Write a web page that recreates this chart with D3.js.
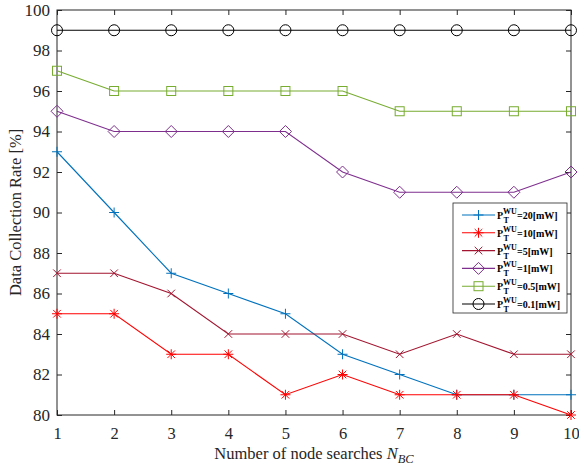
<!DOCTYPE html>
<html>
<head>
<meta charset="utf-8">
<script src="https://cdn.jsdelivr.net/npm/d3@7"></script>
<style>
  body { margin: 0; background: #fff; }
  text { font-family: "Liberation Serif", "Times New Roman", serif; }
</style>
</head>
<body>
<svg id="chart" width="579" height="469"></svg>
<script>
// data
const searches = [1, 2, 3, 4, 5, 6, 7, 8, 9, 10];
const p20 = [93, 90, 87, 86, 85, 83, 82, 81, 81, 81];
const p10 = [85, 85, 83, 83, 81, 82, 81, 81, 81, 80];
const p5 = [87, 87, 86, 84, 84, 84, 83, 84, 83, 83];
const p1 = [95, 94, 94, 94, 94, 92, 91, 91, 91, 92];
const p05 = [97, 96, 96, 96, 96, 96, 95, 95, 95, 95];
const p01 = [99, 99, 99, 99, 99, 99, 99, 99, 99, 99];
const yTicks = [80, 82, 84, 86, 88, 90, 92, 94, 96, 98, 100];
const powerLabels = ["20", "10", "5", "1", "0.5", "0.1"];

const seriesList = [
    {values: p20, color: "#0072BD", marker: "plus"},
    {values: p10, color: "#FF0000", marker: "star"},
    {values: p5, color: "#A2142F", marker: "cross"},
    {values: p1, color: "#7E2F8E", marker: "diamond"},
    {values: p05, color: "#77AC30", marker: "square"},
    {values: p01, color: "#000000", marker: "circle"}
];

const margin = {top: 10, right: 8, bottom: 54, left: 57};
const width = 579 - margin.left - margin.right;
const height = 469 - margin.top - margin.bottom;

const svg = d3.select("#chart");
const g = svg.append("g")
    .attr("transform", "translate(" + margin.left + "," + margin.top + ")");

const x = d3.scaleLinear().domain([1, 10]).range([0, width]);
const y = d3.scaleLinear().domain([80, 100]).range([height, 0]);

// axes, ticks pointing inward, box on
function styleAxis(sel) {
    sel.select(".domain").remove();
    sel.selectAll("line").attr("stroke", "#262626");
    sel.selectAll("text").attr("fill", "#262626").style("font-size", "17px");
}

g.append("g")
    .attr("transform", "translate(0," + height + ")")
    .call(d3.axisBottom(x).tickValues(searches).tickSize(-5).tickPadding(12).tickFormat(d3.format("d")))
    .call(styleAxis)
    .call(function(a) { a.selectAll("text").style("font-size", "16.5px"); });
g.append("g")
    .call(d3.axisTop(x).tickValues(searches).tickSize(-5).tickFormat(""))
    .call(styleAxis);
g.append("g")
    .call(d3.axisLeft(y).tickValues(yTicks).tickSize(-5).tickPadding(7))
    .call(styleAxis);
g.append("g")
    .attr("transform", "translate(" + width + ",0)")
    .call(d3.axisRight(y).tickValues(yTicks).tickSize(-5).tickFormat(""))
    .call(styleAxis);

g.append("rect")
    .attr("width", width).attr("height", height)
    .attr("fill", "none").attr("stroke", "#262626").attr("stroke-width", 1);

// markers
function drawMarker(sel, type, color) {
    const s = 5;
    if (type === "plus") {
        sel.append("path").attr("d", "M" + (-s) + ",0H" + s + "M0," + (-s) + "V" + s)
            .attr("stroke", color).attr("fill", "none");
    } else if (type === "cross") {
        const c = 3.8;
        sel.append("path").attr("d", "M" + (-c) + "," + (-c) + "L" + c + "," + c + "M" + (-c) + "," + c + "L" + c + "," + (-c))
            .attr("stroke", color).attr("fill", "none");
    } else if (type === "star") {
        const c = 3.8;
        sel.append("path").attr("d", "M" + (-s) + ",0H" + s + "M0," + (-s) + "V" + s +
            "M" + (-c) + "," + (-c) + "L" + c + "," + c + "M" + (-c) + "," + c + "L" + c + "," + (-c))
            .attr("stroke", color).attr("fill", "none");
    } else if (type === "diamond") {
        const d = 6;
        sel.append("path").attr("d", "M0," + (-d) + "L" + d + ",0L0," + d + "L" + (-d) + ",0Z")
            .attr("stroke", color).attr("fill", "none");
    } else if (type === "square") {
        sel.append("rect").attr("x", -4.5).attr("y", -4.5).attr("width", 9).attr("height", 9)
            .attr("stroke", color).attr("fill", "none");
    } else if (type === "circle") {
        sel.append("circle").attr("r", 5.5).attr("stroke", color).attr("fill", "none");
    }
}

const line = d3.line()
    .x(function(d, i) { return x(searches[i]); })
    .y(function(d) { return y(d); });

seriesList.forEach(function(s) {
    const sg = g.append("g");
    sg.append("path")
        .datum(s.values)
        .attr("d", line)
        .attr("fill", "none")
        .attr("stroke", s.color)
        .attr("stroke-width", 1.1);
    s.values.forEach(function(v, i) {
        const m = sg.append("g").attr("transform", "translate(" + x(searches[i]) + "," + y(v) + ")");
        drawMarker(m, s.marker, s.color);
    });
});

// axis labels
svg.append("text")
    .attr("x", margin.left + width / 2)
    .attr("y", 459)
    .attr("text-anchor", "middle")
    .attr("fill", "#262626")
    .style("font-size", "16.5px")
    .html('Number of node searches <tspan font-style="italic">N</tspan><tspan font-style="italic" dy="4" font-size="12.5px">BC</tspan>');

svg.append("text")
    .attr("transform", "translate(21," + (margin.top + height / 2) + ") rotate(-90)")
    .attr("text-anchor", "middle")
    .attr("fill", "#262626")
    .style("font-size", "16.5px")
    .text("Data Collection Rate [%]");

// legend
const legend = g.append("g").attr("transform", "translate(" + (453 - margin.left) + "," + (203 - margin.top) + ")");
legend.append("rect")
    .attr("width", 114).attr("height", 110)
    .attr("fill", "#fff").attr("stroke", "#262626").attr("stroke-width", 0.8);

seriesList.forEach(function(s, i) {
    const ly = 12 + i * 17.8;
    const row = legend.append("g").attr("transform", "translate(0," + ly + ")");
    row.append("line").attr("x1", 9).attr("x2", 42).attr("y1", 0).attr("y2", 0)
        .attr("stroke", s.color).attr("stroke-width", 1.1);
    const m = row.append("g").attr("transform", "translate(25.5,0)");
    drawMarker(m, s.marker, s.color);
    const t = row.append("text")
        .attr("x", 44).attr("y", 4)
        .attr("fill", "#000")
        .style("font-size", "10px")
        .style("font-weight", "bold");
    t.append("tspan").text("P");
    t.append("tspan").attr("dy", -5).style("font-size", "8px").text("WU");
    t.append("tspan").attr("x", 50.5).attr("dy", 9).style("font-size", "8px").text("T");
    t.append("tspan").attr("x", 64).attr("dy", -4).text("=" + powerLabels[i] + "[mW]");
});
</script>
</body>
</html>
